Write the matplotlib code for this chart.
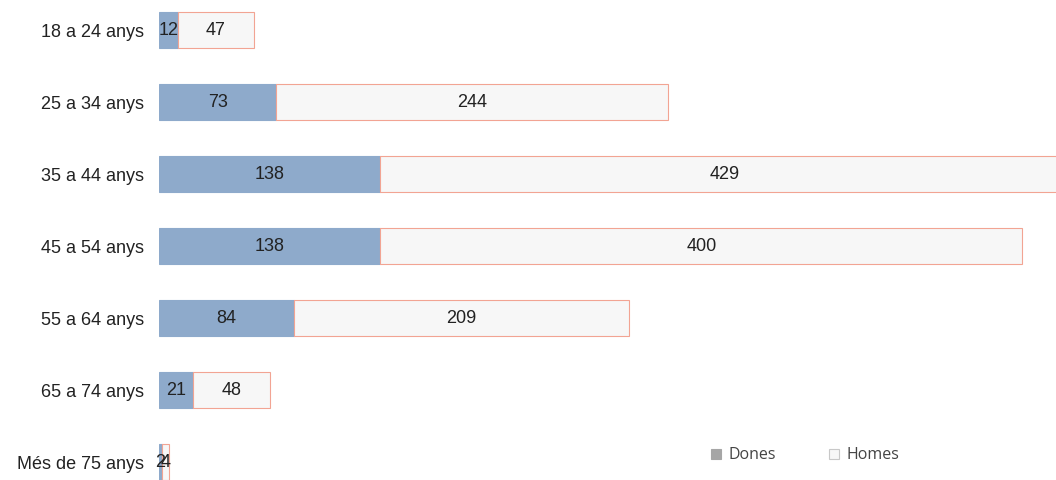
import matplotlib.pyplot as plt

# data
groups = ['18 a 24 anys', '25 a 34 anys', '35 a 44 anys', '45 a 54 anys',
          '55 a 64 anys', '65 a 74 anys', 'Més de 75 anys']
dones = [12, 73, 138, 138, 84, 21, 2]
homes = [47, 244, 429, 400, 209, 48, 4]

plt.rcParams['font.family'] = ['Liberation Sans', 'DejaVu Sans']

fig = plt.figure(figsize=(10.56, 4.8), dpi=100)
ax = fig.add_axes([159 / 1056, 0, 897 / 1056, 1])

pos = list(range(len(groups)))
h = 0.51
ax.barh(pos, dones, height=h, color='#8eaacb', edgecolor='#8eaacb', lw=0.8, label='Dones')
ax.barh(pos, homes, left=dones, height=h, color='#f7f7f7', edgecolor='#f2a493', lw=0.8, label='Homes')

for i in pos:
    ax.text(dones[i] / 2, i, str(dones[i]), ha='center', va='center', fontsize=13, color='#222222')
    ax.text(dones[i] + homes[i] / 2, i, str(homes[i]), ha='center', va='center', fontsize=13, color='#222222')

ax.set_xlim(0, 559)
ax.set_ylim(6.25, -0.417)
ax.set_yticks(pos)
ax.set_yticklabels(groups, fontsize=13, color='#222222')
ax.tick_params(axis='y', length=0, pad=11)
ax.set_xticks([])
for s in ax.spines.values():
    s.set_visible(False)

leg = ax.legend(loc='lower left', bbox_to_anchor=(538 / 897, 0.005), ncol=2, frameon=False,
                handlelength=0.6, handleheight=0.6, columnspacing=3.3,
                handletextpad=0.5, prop={'family': 'Open Sans', 'size': 11.5})
for t in leg.get_texts():
    t.set_color('#444444')
leg.legend_handles[0].set_color('#a6a6a6')
leg.legend_handles[1].set_facecolor('#f7f7f7')
leg.legend_handles[1].set_edgecolor('#c8c8c8')

fig.savefig('out.png', dpi=100)
